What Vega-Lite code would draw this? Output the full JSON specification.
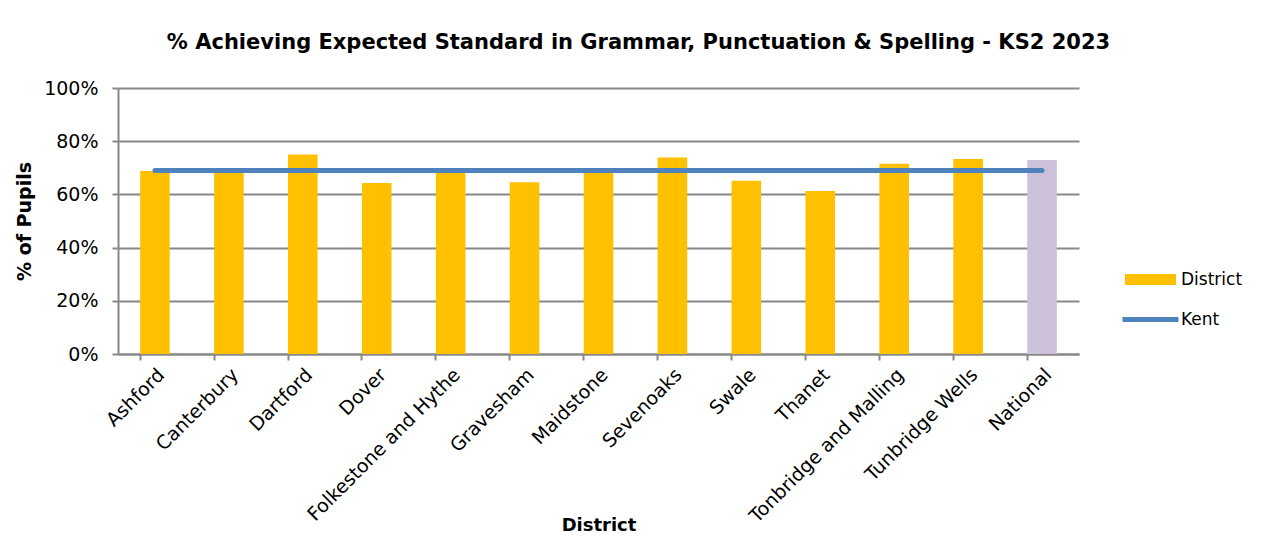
{
  "$schema": "https://vega.github.io/schema/vega-lite/v6.json",
  "width": 961,
  "height": 266,
  "autosize": {"type": "none"},
  "padding": {"left": 118, "top": 88, "right": 190, "bottom": 184},
  "background": "white",
  "config": {
    "font": "DejaVu Sans",
    "view": {"stroke": null},
    "axis": {"labelFont": "DejaVu Sans", "titleFont": "DejaVu Sans", "labelColor": "#000", "titleColor": "#000"}
  },
  "title": {
    "text": "% Achieving Expected Standard in Grammar, Punctuation & Spelling - KS2 2023",
    "font": "DejaVu Sans",
    "fontSize": 21,
    "fontWeight": "bold",
    "color": "#000",
    "anchor": "middle",
    "dx": 40,
    "offset": 26
  },
  "data": {
    "values": [
      {"district": "Ashford", "value": 0.688, "type": "District", "kent": 0.69},
      {"district": "Canterbury", "value": 0.69, "type": "District", "kent": 0.69},
      {"district": "Dartford", "value": 0.75, "type": "District", "kent": 0.69},
      {"district": "Dover", "value": 0.643, "type": "District", "kent": 0.69},
      {"district": "Folkestone and Hythe", "value": 0.69, "type": "District", "kent": 0.69},
      {"district": "Gravesham", "value": 0.646, "type": "District", "kent": 0.69},
      {"district": "Maidstone", "value": 0.692, "type": "District", "kent": 0.69},
      {"district": "Sevenoaks", "value": 0.739, "type": "District", "kent": 0.69},
      {"district": "Swale", "value": 0.651, "type": "District", "kent": 0.69},
      {"district": "Thanet", "value": 0.613, "type": "District", "kent": 0.69},
      {"district": "Tonbridge and Malling", "value": 0.715, "type": "District", "kent": 0.69},
      {"district": "Tunbridge Wells", "value": 0.733, "type": "District", "kent": 0.69},
      {"district": "National", "value": 0.729, "type": "National", "kent": 0.69}
    ]
  },
  "encoding": {
    "x": {
      "field": "district",
      "type": "nominal",
      "sort": null,
      "scale": {"paddingInner": 0.6, "paddingOuter": 0.3},
      "axis": {
        "title": "District",
        "titleFontSize": 18,
        "titleFontWeight": "bold",
        "titleY": 176,
        "titleBaseline": "alphabetic",
        "labelAngle": -45,
        "labelAlign": "right",
        "labelBaseline": "top",
        "labelFontSize": 19,
        "labelPadding": 5,
        "labelOverlap": false,
        "labelLimit": 400,
        "bandPosition": 0,
        "domainColor": "#888",
        "domainWidth": 2,
        "tickColor": "#888",
        "tickWidth": 2,
        "tickSize": 6,
        "grid": false
      }
    }
  },
  "layer": [
    {
      "mark": {"type": "bar"},
      "encoding": {
        "y": {
          "field": "value",
          "type": "quantitative",
          "scale": {"domain": [0, 1]},
          "axis": {
            "title": "% of Pupils",
            "titleFontSize": 19,
            "titleFontWeight": "bold",
            "titlePadding": 9,
            "format": ".0%",
            "values": [0, 0.2, 0.4, 0.6, 0.8, 1],
            "labelOverlap": false,
            "labelFontSize": 19,
            "labelPadding": 14,
            "grid": true,
            "gridColor": "#888",
            "gridWidth": 2,
            "domainColor": "#888",
            "domainWidth": 2,
            "tickColor": "#888",
            "tickWidth": 2,
            "tickSize": 6
          }
        },
        "color": {
          "field": "type",
          "type": "nominal",
          "scale": {"domain": ["District", "National"], "range": ["#FFC000", "#CCC0DA"]},
          "legend": {
            "title": null,
            "values": ["District"],
            "orient": "none",
            "legendX": 1007,
            "legendY": 166,
            "symbolType": "M-1,-0.2157H1V0.2157H-1Z",
            "symbolSize": 2601,
            "symbolStrokeWidth": 0,
            "labelFontSize": 17,
            "labelFont": "DejaVu Sans",
            "labelColor": "#000",
            "labelOffset": 5
          }
        }
      }
    },
    {
      "mark": {"type": "line", "strokeWidth": 5, "strokeCap": "round"},
      "encoding": {
        "y": {"field": "kent", "type": "quantitative"},
        "stroke": {
          "datum": "Kent",
          "type": "nominal",
          "scale": {"domain": ["Kent"], "range": ["#4F81BD"]},
          "legend": {
            "title": null,
            "orient": "none",
            "legendX": 1002,
            "legendY": 201,
            "symbolType": "stroke",
            "symbolSize": 3136,
            "symbolStrokeWidth": 5,
            "labelFontSize": 17,
            "labelFont": "DejaVu Sans",
            "labelColor": "#000",
            "labelOffset": 0
          }
        }
      }
    }
  ]
}
